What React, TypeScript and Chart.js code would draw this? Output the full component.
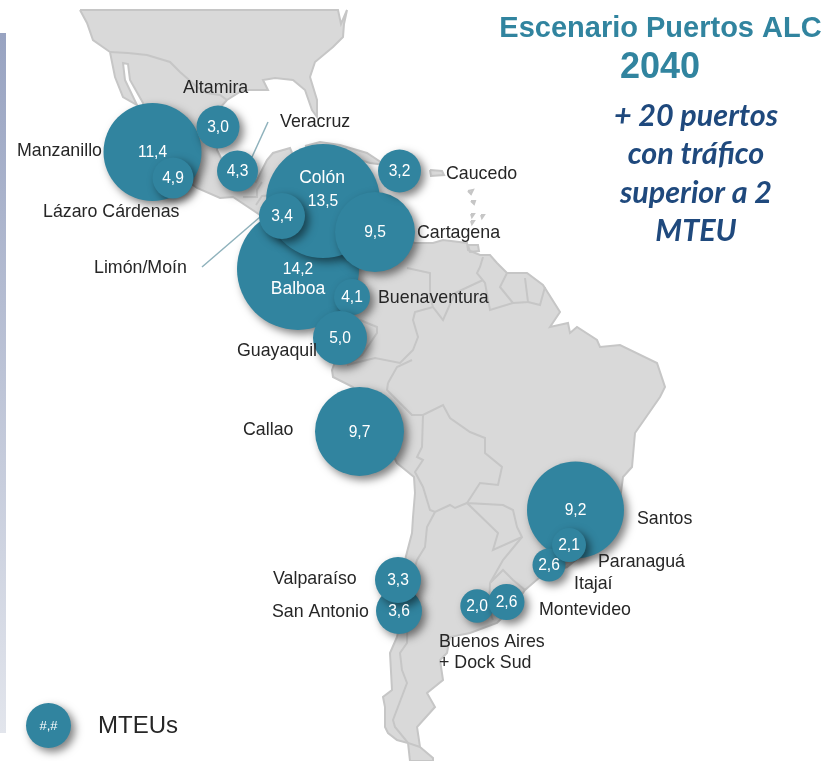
import React, { useEffect, useRef } from "react";
import { Chart, registerables } from "chart.js";

Chart.register(...registerables);

const ports = ["Manzanillo", "Lázaro Cárdenas", "Altamira", "Veracruz", "Balboa", "Colón", "Cartagena", "Limón/Moín", "Buenaventura", "Guayaquil", "Caucedo", "Callao", "Santos", "Itajaí", "Paranaguá", "San Antonio", "Valparaíso", "Buenos Aires + Dock Sud", "Montevideo"];
const mteu = ["11,4", "4,9", "3,0", "4,3", "14,2", "13,5", "9,5", "3,4", "4,1", "5,0", "3,2", "9,7", "9,2", "2,6", "2,1", "3,6", "3,3", "2,0", "2,6"];
const mapX = [152.5, 173, 218, 237.5, 298, 323, 375, 282, 352, 340, 399.5, 359.5, 575.5, 549, 569, 399, 398, 477, 506.5];
const mapY = [152, 178, 127, 171, 269, 201, 232, 216, 297, 338, 171, 431.5, 510, 565, 545, 611, 580, 606, 602];
const bubbleR = [49, 20.5, 21.5, 20.5, 61, 57, 40, 23, 18, 27, 21.5, 44.5, 48.5, 16.5, 17, 23, 23, 16.7, 18];

const americas = [[80,10],[338,10],[341,24],[347,10],[344,24],[343,37],[333,47],[315,62],[310,77],[317,100],[317,117],[312,110],[305,90],[293,80],[275,78],[263,80],[268,90],[243,90],[227,100],[218,110],[216,130],[217,150],[222,160],[245,173],[256,182],[267,160],[273,153],[290,148],[295,160],[285,175],[283,190],[295,195],[300,215],[305,235],[320,245],[345,230],[370,225],[400,238],[415,243],[433,243],[443,240],[467,243],[468,250],[480,255],[490,255],[497,263],[507,273],[527,273],[543,285],[560,312],[550,327],[568,323],[570,333],[577,327],[597,340],[600,347],[620,345],[657,363],[665,387],[660,397],[635,433],[632,467],[623,477],[620,500],[600,540],[567,567],[540,577],[525,590],[513,607],[497,623],[470,633],[450,637],[447,653],[440,660],[443,680],[427,693],[435,707],[417,727],[420,747],[433,758],[433,761],[410,761],[408,743],[397,740],[388,733],[385,727],[385,707],[383,697],[392,690],[390,653],[397,637],[400,623],[405,560],[412,533],[413,517],[415,493],[414,477],[397,463],[375,420],[353,387],[333,377],[332,370],[345,335],[340,300],[320,265],[300,250],[285,245],[260,215],[233,197],[220,198],[197,188],[165,165],[150,130],[143,103],[130,80],[128,64],[123,63],[125,80],[137,105],[123,97],[115,77],[110,52],[93,40],[87,23],[80,10]];
const cuba = [[305,146],[320,142],[340,145],[367,153],[385,165],[370,163],[345,155],[320,150],[305,146]];
const puertoRico = [[430,170],[442,171],[444,175],[431,176],[430,170]];
const trinidad = [[468,245],[478,245],[479,251],[470,252],[468,245]];
const antilles = [[468,191],[473,190],[471,194],[468,191]];
const antilles2 = [[471,201],[475,201],[474,204],[471,201]];
const antilles3 = [[471,214],[474,214],[472,217],[471,214]];
const antilles4 = [[481,215],[484,215],[482,218],[481,215]];
const antilles5 = [[471,221],[474,221],[472,224],[471,221]];
const islands = [cuba, puertoRico, trinidad, antilles, antilles2, antilles3, antilles4, antilles5];

const borders = [
  [[110,52],[128,53],[147,55],[170,62],[180,72],[197,87],[207,93],[220,95],[227,100]],
  [[243,197],[257,197],[257,190],[262,182]],
  [[256,205],[262,196],[275,195]],
  [[388,383],[397,367],[412,360]],
  [[388,383],[387,390],[400,403],[412,415],[423,415],[443,405],[450,418],[470,432],[485,438],[485,453],[502,467],[498,485],[480,483],[467,503],[503,505],[513,510],[517,527],[522,537],[503,560],[490,583]],
  [[423,415],[422,447],[417,457],[423,460],[415,472],[423,487],[430,510],[435,512],[450,505],[455,508],[467,503],[498,533],[493,550],[522,537]],
  [[435,512],[427,527],[425,547],[417,560],[408,593],[407,643],[400,653],[402,670],[407,683],[393,720],[395,727],[408,743],[420,747]],
  [[490,583],[503,570],[513,580],[525,590]],
  [[490,583],[489,610],[493,620]],
  [[483,257],[480,267],[477,273],[485,283],[490,310],[513,303],[500,287],[507,273]],
  [[513,303],[528,302],[525,278]],
  [[528,302],[540,305],[545,287]],
  [[483,280],[455,293],[443,320],[433,307],[430,297],[430,273],[407,268]],
  [[433,307],[415,312],[413,320],[418,337],[413,350],[400,363],[375,358],[347,365]],
  [[360,320],[377,327],[377,333],[362,355],[347,365]],
];
const leaders = [
  [[252,157],[268,122]],
  [[260,217],[202,267]],
];

const legendPoint = [{ x: 48.5, y: 725.5, r: 22.5 }];
const legendValue = "#,#";
const legendName = "MTEUs";

const titleLines = [
  { text: "Escenario Puertos ALC", x: 660.5, y: 29, font: "bold 29px 'Liberation Sans'", color: "#31849f" },
  { text: "2040", x: 660, y: 68, font: "bold 36px 'Liberation Sans'", color: "#31849f" },
  { text: "+ 20 puertos", x: 696, y: 116, font: "italic bold 30.5px Lato", color: "#1f497d" },
  { text: "con tráfico", x: 696, y: 154, font: "italic bold 30.5px Lato", color: "#1f497d" },
  { text: "superior a 2", x: 696, y: 193, font: "italic bold 30.5px Lato", color: "#1f497d" },
  { text: "MTEU", x: 696, y: 231, font: "italic bold 30.5px Lato", color: "#1f497d" },
];
const portLabels = [
  { text: "Manzanillo", x: 17, y: 151 },
  { text: "Lázaro Cárdenas", x: 43, y: 212 },
  { text: "Altamira", x: 183, y: 88 },
  { text: "Veracruz", x: 280, y: 122 },
  { text: "Caucedo", x: 446, y: 174 },
  { text: "Cartagena", x: 417, y: 233 },
  { text: "Limón/Moín", x: 94, y: 268 },
  { text: "Buenaventura", x: 378, y: 298 },
  { text: "Guayaquil", x: 237, y: 351 },
  { text: "Callao", x: 243, y: 430 },
  { text: "Santos", x: 637, y: 519 },
  { text: "Paranaguá", x: 598, y: 562 },
  { text: "Itajaí", x: 574, y: 584 },
  { text: "Valparaíso", x: 273, y: 579 },
  { text: "San Antonio", x: 272, y: 612 },
  { text: "Montevideo", x: 539, y: 610 },
  { text: "Buenos Aires", x: 439, y: 642 },
  { text: "+ Dock Sud", x: 439, y: 663 },
];
const innerNames = [
  { text: "Colón", x: 322, y: 178 },
  { text: "Balboa", x: 298, y: 289 },
];
const TEAL = "#31849f";

const pt = (p: number[]) => ({ x: p[0], y: p[1] });

const mapPlugin = {
  id: "mapFill",
  beforeDatasetsDraw(chart: any) {
    const { ctx, scales } = chart;
    ctx.save();
    [americas, ...islands].forEach((poly) => {
      ctx.beginPath();
      poly.forEach((p, i) => {
        const x = scales.x.getPixelForValue(p[0]);
        const y = scales.y.getPixelForValue(p[1]);
        if (i === 0) ctx.moveTo(x, y);
        else ctx.lineTo(x, y);
      });
      ctx.closePath();
      ctx.fillStyle = "#d9d9d9";
      ctx.fill();
    });
    ctx.restore();
  },
  beforeDatasetDraw(chart: any, args: any) {
    if (chart.data.datasets[args.index].type === "bubble") {
      const c = chart.ctx;
      c.shadowColor = "rgba(0,0,0,0.5)";
      c.shadowBlur = 8;
      c.shadowOffsetX = 4;
      c.shadowOffsetY = 4;
    }
  },
  afterDatasetDraw(chart: any) {
    const c = chart.ctx;
    c.shadowColor = "transparent";
    c.shadowBlur = 0;
    c.shadowOffsetX = 0;
    c.shadowOffsetY = 0;
  },
  afterDatasetsDraw(chart: any) {
    const { ctx, scales } = chart;
    const X = (v: number) => scales.x.getPixelForValue(v);
    const Y = (v: number) => scales.y.getPixelForValue(v);
    ctx.save();
    ctx.textBaseline = "middle";
    ctx.textAlign = "left";
    ctx.fillStyle = "#262626";
    ctx.font = "17.8px 'Liberation Sans'";
    portLabels.forEach((l) => ctx.fillText(l.text, X(l.x), Y(l.y)));
    ctx.font = "24px 'Liberation Sans'";
    ctx.fillText(legendName, X(98), Y(726));
    ctx.textAlign = "center";
    titleLines.forEach((l) => {
      ctx.font = l.font;
      ctx.fillStyle = l.color;
      ctx.fillText(l.text, X(l.x), Y(l.y));
    });
    ctx.fillStyle = "#ffffff";
    ctx.font = "15.6px 'Liberation Sans'";
    ports.forEach((_, i) => {
      ctx.fillText(mteu[i], X(mapX[i]), Y(mapY[i] + 1));
    });
    ctx.font = "13px 'Liberation Sans'";
    ctx.fillText(legendValue, X(48.5), Y(726));
    ctx.font = "17.5px 'Liberation Sans'";
    innerNames.forEach((l) => ctx.fillText(l.text, X(l.x), Y(l.y)));
    ctx.restore();
  },
};

export default function App() {
  const ref = useRef<HTMLCanvasElement>(null);
  useEffect(() => {
    const outline = [americas, ...islands].map((poly) => ({
      type: "scatter" as const,
      data: poly.map(pt),
      showLine: true,
      borderColor: "#c6c6c6",
      borderWidth: 2,
      pointRadius: 0,
      fill: false,
      order: 5,
    }));
    const inner = borders.map((b) => ({
      type: "scatter" as const,
      data: b.map(pt),
      showLine: true,
      borderColor: "#c6c6c6",
      borderWidth: 2,
      pointRadius: 0,
      fill: false,
      order: 4,
    }));
    const lead = leaders.map((b) => ({
      type: "scatter" as const,
      data: b.map(pt),
      showLine: true,
      borderColor: "#8fb2bc",
      borderWidth: 1.5,
      pointRadius: 0,
      fill: false,
      order: 3,
    }));
    const chart = new Chart(ref.current!, {
      type: "bubble",
      data: {
        datasets: [
          ...outline,
          ...inner,
          ...lead,
          {
            type: "bubble",
            label: "MTEUs",
            data: ports.map((_, i) => ({ x: mapX[i], y: mapY[i], r: bubbleR[i] })),
            backgroundColor: TEAL,
            borderWidth: 0,
            hoverRadius: 0,
            order: 1,
          },
          {
            type: "bubble",
            label: "legend",
            data: legendPoint,
            backgroundColor: TEAL,
            borderWidth: 0,
            order: 1,
          },
        ] as any,
      },
      options: {
        responsive: false,
        animation: false,
        events: [],
        layout: { padding: 0, autoPadding: false },
        plugins: { legend: { display: false }, tooltip: { enabled: false }, title: { display: false } },
        scales: {
          x: { type: "linear", min: 0, max: 825, display: false },
          y: { type: "linear", min: 0, max: 761, reverse: true, display: false },
        },
      },
      plugins: [mapPlugin],
    });
    return () => chart.destroy();
  }, []);
  return (
    <div style={{ position: "absolute", left: 0, top: 0, width: 825, height: 761, background: "#fff", overflow: "hidden" }}>
      <div style={{ position: "absolute", left: 0, top: 33, width: 6, height: 700, background: "linear-gradient(#98a3c1, #e2e5ec)" }} />
      <canvas ref={ref} width={825} height={761} style={{ position: "absolute", left: 0, top: 0, display: "block" }} />
    </div>
  );
}
